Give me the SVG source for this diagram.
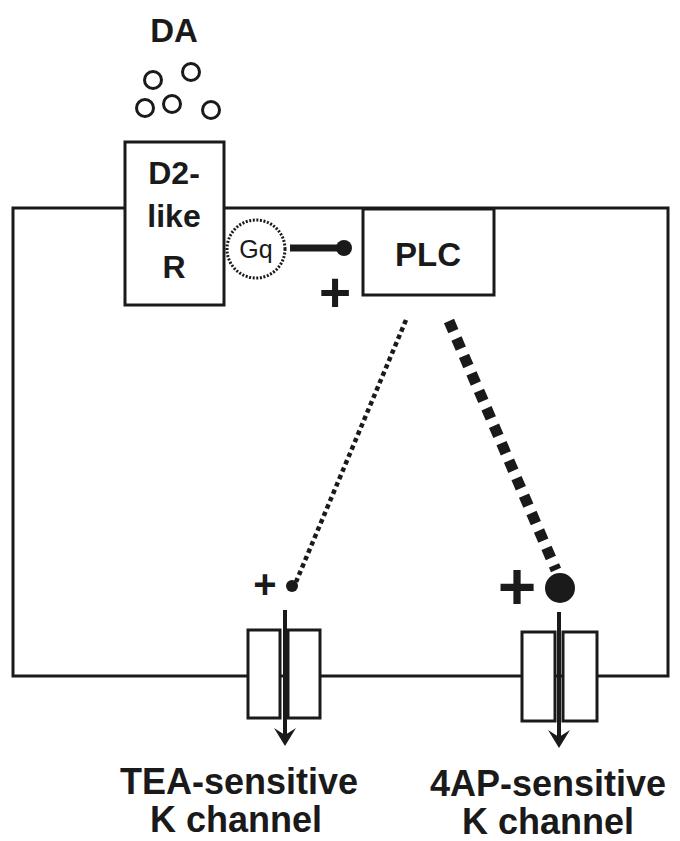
<svg xmlns="http://www.w3.org/2000/svg" width="680" height="841" viewBox="0 0 680 841">
<style>
.ln{stroke:#1a1a1a;stroke-width:3;fill:none}
.box{stroke:#1a1a1a;stroke-width:3;fill:#fff}
.t{font-family:"Liberation Sans",Arial,sans-serif;font-weight:bold;fill:#1a1a1a;text-anchor:middle}
.da{stroke:#1a1a1a;stroke-width:3;fill:#fff}
.ah{fill:#1a1a1a}
</style>
<rect x="0" y="0" width="680" height="841" fill="#fff"/>
<g id="cell"><rect x="13" y="208" width="655" height="468" class="ln"/></g>
<g id="DA">
<text class="t" x="174" y="42" font-size="33">DA</text>
<circle class="da" cx="153" cy="80" r="8.5"/>
<circle class="da" cx="191" cy="72" r="8.5"/>
<circle class="da" cx="145" cy="108" r="8.5"/>
<circle class="da" cx="172" cy="104" r="8.5"/>
<circle class="da" cx="211" cy="110" r="8.5"/>
</g>
<g id="D2R">
<rect class="box" x="125" y="142" width="99" height="163"/>
<text class="t" x="174" y="184" font-size="32">D2-</text>
<text class="t" x="174" y="227" font-size="32">like</text>
<text class="t" x="174" y="278" font-size="32">R</text>
</g>
<g id="Gq">
<circle cx="256" cy="249" r="29" fill="#fff" stroke="#1a1a1a" stroke-width="3" stroke-dasharray="2 1.6"/>
<text x="256" y="258" font-family="Liberation Sans,Arial,sans-serif" font-size="25" fill="#1a1a1a" text-anchor="middle">Gq</text>
</g>
<g id="PLC">
<rect class="box" x="363" y="209" width="131" height="86"/>
<text class="t" x="428" y="266" font-size="33">PLC</text>
</g>
<g id="TEA">
<rect class="box" x="248" y="630" width="32" height="88"/>
<rect class="box" x="288" y="630" width="32" height="88"/>
<text class="t" x="239" y="794" font-size="36">TEA-sensitive</text>
<text class="t" x="236" y="832" font-size="36">K channel</text>
</g>
<g id="AP4">
<rect class="box" x="522" y="632" width="33" height="89"/>
<rect class="box" x="563" y="632" width="34" height="89"/>
<text class="t" x="548" y="796" font-size="36">4AP-sensitive</text>
<text class="t" x="548" y="834" font-size="36">K channel</text>
</g>
<g id="connectors">
<line x1="290" y1="248" x2="344" y2="248" stroke="#1a1a1a" stroke-width="7"/>
<circle cx="344" cy="248" r="8" fill="#1a1a1a"/>
<text class="t" x="335" y="311" font-size="55">+</text>
<line x1="406" y1="320" x2="296" y2="582" stroke="#1a1a1a" stroke-width="4.5" stroke-dasharray="4.5 3.5"/>
<circle cx="292" cy="586" r="6" fill="#1a1a1a"/>
<text class="t" x="265" y="598" font-size="40">+</text>
<line x1="449" y1="321" x2="556" y2="570" stroke="#1a1a1a" stroke-width="11" stroke-dasharray="11 8"/>
<circle cx="560" cy="588" r="15" fill="#1a1a1a"/>
<text class="t" x="517" y="609" font-size="66">+</text>
<line x1="285" y1="610" x2="285" y2="738" stroke="#1a1a1a" stroke-width="4"/>
<path class="ah" d="M285,746 L274,728 L285,735 L296,728 Z"/>
<line x1="559" y1="612" x2="559" y2="740" stroke="#1a1a1a" stroke-width="4"/>
<path class="ah" d="M559,748 L548,730 L559,737 L570,730 Z"/>
</g>
</svg>
